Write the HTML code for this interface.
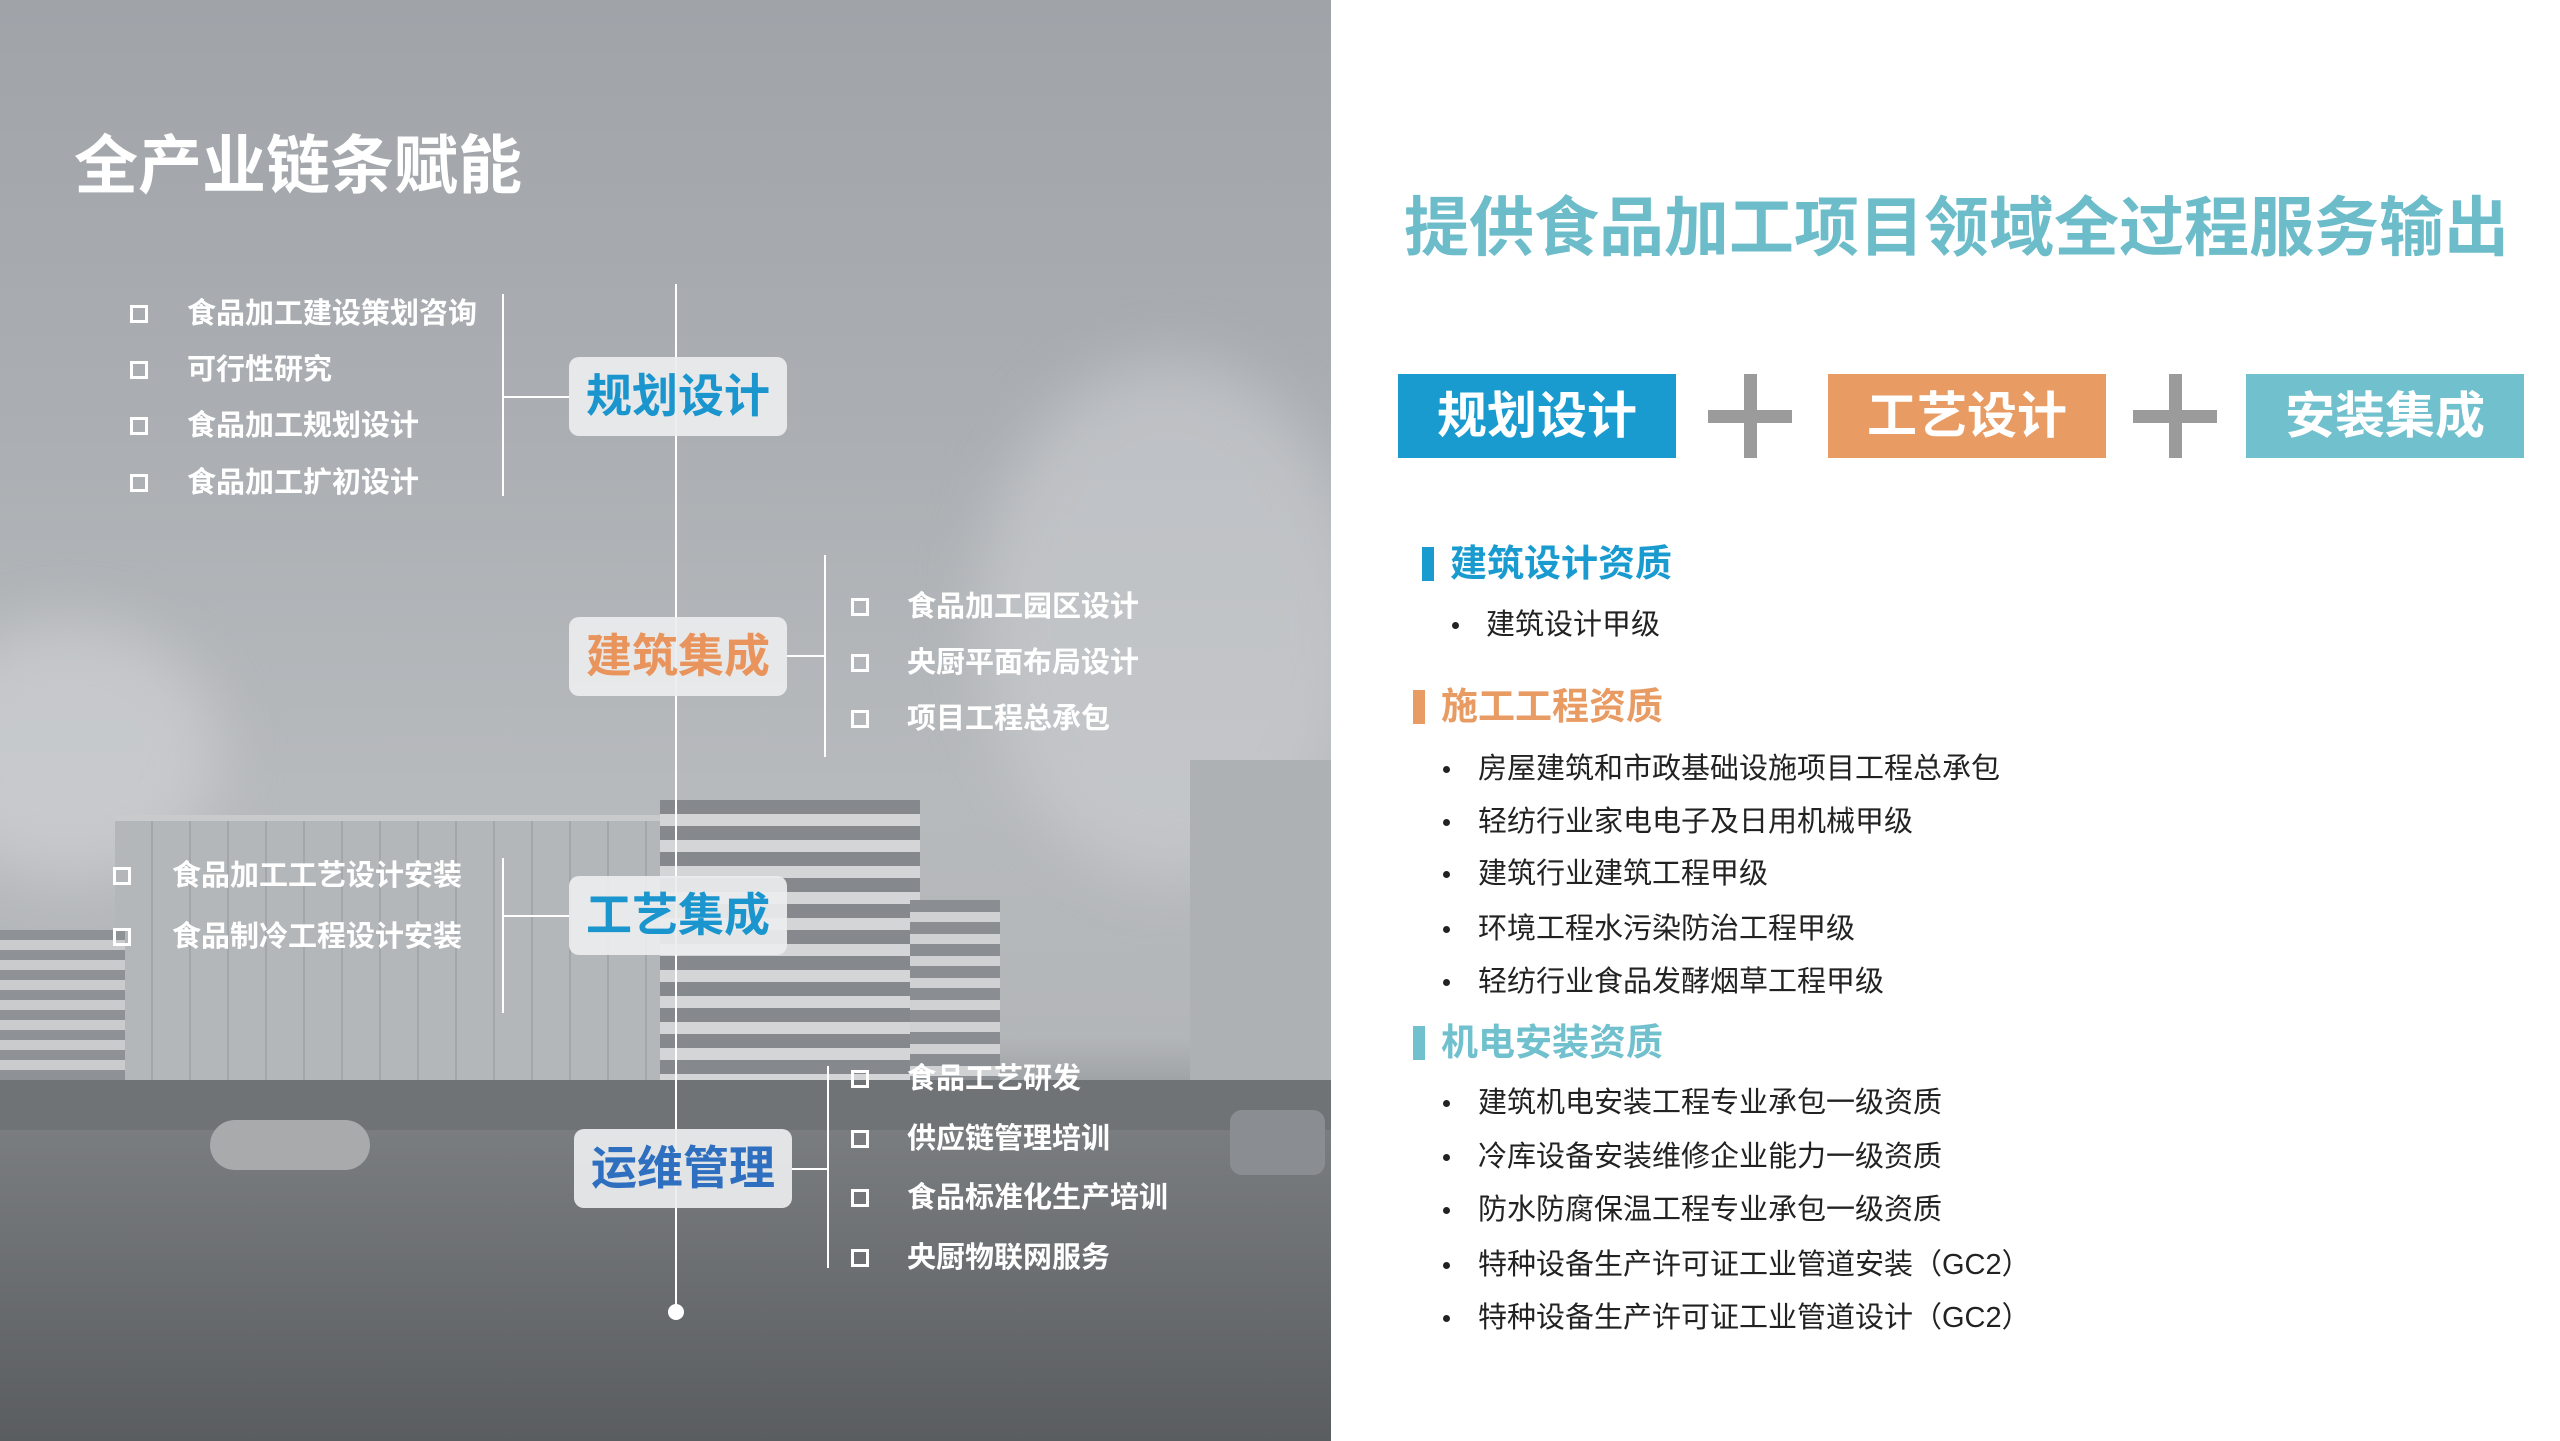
<!DOCTYPE html>
<html><head><meta charset="utf-8">
<style>
*{margin:0;padding:0;box-sizing:border-box}
body{width:2560px;height:1441px;position:relative;overflow:hidden;background:#fff;font-family:"Liberation Sans","Noto Sans CJK SC",sans-serif}
.a{position:absolute;white-space:nowrap}
#photo{position:absolute;left:0;top:0;width:1331px;height:1441px;overflow:hidden;
background:linear-gradient(180deg,#a0a4a9 0%,#abafb3 30%,#b7babd 55%,#b3b6b9 72%,#8d9094 78%,#7a7d80 85%,#66696c 100%)}
.w{color:#fff;font-weight:bold;font-size:29px;line-height:36px}
.cb{position:absolute;width:18px;height:18px;border:3px solid #fff}
.vl{position:absolute;width:2px;background:#fff}
.hl{position:absolute;height:2px;background:#fff}
.box{position:absolute;width:218px;height:79px;background:rgba(236,237,238,0.92);border-radius:10px;font-weight:bold;font-size:46px;line-height:79px;text-align:center}
.bt{position:absolute;width:278px;height:84px;color:#fff;font-weight:bold;font-size:50px;line-height:84px;text-align:center}
.plus{position:absolute;width:84px;height:84px}
.plus:before{content:"";position:absolute;left:0;top:36px;width:84px;height:13px;background:#9b9b9b}
.plus:after{content:"";position:absolute;left:36px;top:0;width:13px;height:84px;background:#9b9b9b}
.h{font-weight:bold;font-size:37px;line-height:44px}
.bar{position:absolute;width:12px;height:34px}
.li{font-size:29px;line-height:36px;color:#222}
.dot{position:absolute;width:7px;height:7px;border-radius:50%;background:#222}
</style></head><body>
<div id="photo">
 <div style="position:absolute;left:980px;top:360px;width:380px;height:520px;border-radius:50%;background:rgba(205,208,211,0.55);filter:blur(30px)"></div>
 <div style="position:absolute;left:-80px;top:620px;width:300px;height:260px;border-radius:50%;background:rgba(210,212,215,0.6);filter:blur(30px)"></div>
 <div style="position:absolute;left:1190px;top:760px;width:141px;height:360px;background:#aeb1b4"></div>
 <div style="position:absolute;left:115px;top:815px;width:560px;height:265px;background:repeating-linear-gradient(90deg,#b4b7ba 0 36px,#a3a6aa 36px 38px);border-top:6px solid #c8cacc"></div>
 <div style="position:absolute;left:660px;top:800px;width:260px;height:290px;background:repeating-linear-gradient(180deg,#85888c 0 14px,#d3d5d7 14px 26px)"></div>
 <div style="position:absolute;left:910px;top:900px;width:90px;height:190px;background:repeating-linear-gradient(180deg,#8a8d91 0 12px,#cfd1d3 12px 22px)"></div>
 <div style="position:absolute;left:0;top:930px;width:125px;height:150px;background:repeating-linear-gradient(180deg,#8e9195 0 10px,#c9cbcd 10px 20px)"></div>
 <div style="position:absolute;left:0;top:1080px;width:1331px;height:50px;background:#6f7376"></div>
 <div style="position:absolute;left:0;top:1130px;width:1331px;height:311px;background:linear-gradient(180deg,#7a7d80,#5a5d60)"></div>
 <div style="position:absolute;left:210px;top:1120px;width:160px;height:50px;border-radius:30px;background:#a8aaac"></div>
 <div style="position:absolute;left:1230px;top:1110px;width:95px;height:65px;border-radius:12px;background:#8a8e92"></div>
</div>

<div class="a" style="left:74px;top:128px;font-size:64px;line-height:76px;font-weight:bold;color:#fff">全产业链条赋能</div>

<div class="vl" style="left:675px;top:284px;height:1027px"></div>
<div style="position:absolute;left:668px;top:1304px;width:16px;height:16px;border-radius:50%;background:#fff"></div>

<div class="vl" style="left:502px;top:294px;height:202px"></div>
<div class="hl" style="left:502px;top:396px;width:67px"></div>
<div class="cb" style="left:130px;top:305px"></div><div class="a w" style="left:187px;top:296px">食品加工建设策划咨询</div>
<div class="cb" style="left:130px;top:361px"></div><div class="a w" style="left:187px;top:352px">可行性研究</div>
<div class="cb" style="left:130px;top:417px"></div><div class="a w" style="left:187px;top:408px">食品加工规划设计</div>
<div class="cb" style="left:130px;top:474px"></div><div class="a w" style="left:187px;top:465px">食品加工扩初设计</div>
<div class="box" style="left:569px;top:357px;color:#1a95cd">规划设计</div>

<div class="vl" style="left:824px;top:555px;height:202px"></div>
<div class="hl" style="left:787px;top:655px;width:38px"></div>
<div class="cb" style="left:851px;top:598px"></div><div class="a w" style="left:907px;top:589px">食品加工园区设计</div>
<div class="cb" style="left:851px;top:654px"></div><div class="a w" style="left:907px;top:645px">央厨平面布局设计</div>
<div class="cb" style="left:851px;top:710px"></div><div class="a w" style="left:907px;top:701px">项目工程总承包</div>
<div class="box" style="left:569px;top:617px;color:#e9945c">建筑集成</div>

<div class="vl" style="left:502px;top:858px;height:155px"></div>
<div class="hl" style="left:502px;top:915px;width:67px"></div>
<div class="cb" style="left:113px;top:867px"></div><div class="a w" style="left:172px;top:858px">食品加工工艺设计安装</div>
<div class="cb" style="left:113px;top:928px"></div><div class="a w" style="left:172px;top:919px">食品制冷工程设计安装</div>
<div class="box" style="left:569px;top:876px;color:#1a95cd">工艺集成</div>

<div class="vl" style="left:827px;top:1066px;height:202px"></div>
<div class="hl" style="left:792px;top:1168px;width:36px"></div>
<div class="cb" style="left:851px;top:1070px"></div><div class="a w" style="left:907px;top:1061px">食品工艺研发</div>
<div class="cb" style="left:851px;top:1130px"></div><div class="a w" style="left:907px;top:1121px">供应链管理培训</div>
<div class="cb" style="left:851px;top:1189px"></div><div class="a w" style="left:907px;top:1180px">食品标准化生产培训</div>
<div class="cb" style="left:851px;top:1249px"></div><div class="a w" style="left:907px;top:1240px">央厨物联网服务</div>
<div class="box" style="left:574px;top:1129px;color:#2f6fc0">运维管理</div>

<div class="a" style="left:1404px;top:190px;font-size:65px;line-height:76px;font-weight:bold;color:#6dbcca">提供食品加工项目领域全过程服务输出</div>

<div class="bt" style="left:1398px;top:374px;background:#1a9bd0">规划设计</div>
<div class="plus" style="left:1708px;top:374px"></div>
<div class="bt" style="left:1828px;top:374px;background:#e99b64">工艺设计</div>
<div class="plus" style="left:2133px;top:374px"></div>
<div class="bt" style="left:2246px;top:374px;background:#70c0cd">安装集成</div>

<div class="bar" style="left:1422px;top:547px;background:#1a9bd0"></div>
<div class="a h" style="left:1450px;top:542px;color:#1a9bd0">建筑设计资质</div>
<div class="dot" style="left:1452px;top:622px"></div><div class="a li" style="left:1486px;top:607px">建筑设计甲级</div>

<div class="bar" style="left:1413px;top:690px;background:#e99b64"></div>
<div class="a h" style="left:1441px;top:685px;color:#e99b64">施工工程资质</div>
<div class="dot" style="left:1443px;top:766px"></div><div class="a li" style="left:1478px;top:751px">房屋建筑和市政基础设施项目工程总承包</div>
<div class="dot" style="left:1443px;top:819px"></div><div class="a li" style="left:1478px;top:804px">轻纺行业家电电子及日用机械甲级</div>
<div class="dot" style="left:1443px;top:871px"></div><div class="a li" style="left:1478px;top:856px">建筑行业建筑工程甲级</div>
<div class="dot" style="left:1443px;top:926px"></div><div class="a li" style="left:1478px;top:911px">环境工程水污染防治工程甲级</div>
<div class="dot" style="left:1443px;top:979px"></div><div class="a li" style="left:1478px;top:964px">轻纺行业食品发酵烟草工程甲级</div>

<div class="bar" style="left:1413px;top:1026px;background:#70c0cd"></div>
<div class="a h" style="left:1441px;top:1021px;color:#70c0cd">机电安装资质</div>
<div class="dot" style="left:1443px;top:1100px"></div><div class="a li" style="left:1478px;top:1085px">建筑机电安装工程专业承包一级资质</div>
<div class="dot" style="left:1443px;top:1154px"></div><div class="a li" style="left:1478px;top:1139px">冷库设备安装维修企业能力一级资质</div>
<div class="dot" style="left:1443px;top:1207px"></div><div class="a li" style="left:1478px;top:1192px">防水防腐保温工程专业承包一级资质</div>
<div class="dot" style="left:1443px;top:1262px"></div><div class="a li" style="left:1478px;top:1247px">特种设备生产许可证工业管道安装（GC2）</div>
<div class="dot" style="left:1443px;top:1315px"></div><div class="a li" style="left:1478px;top:1300px">特种设备生产许可证工业管道设计（GC2）</div>
</body></html>
